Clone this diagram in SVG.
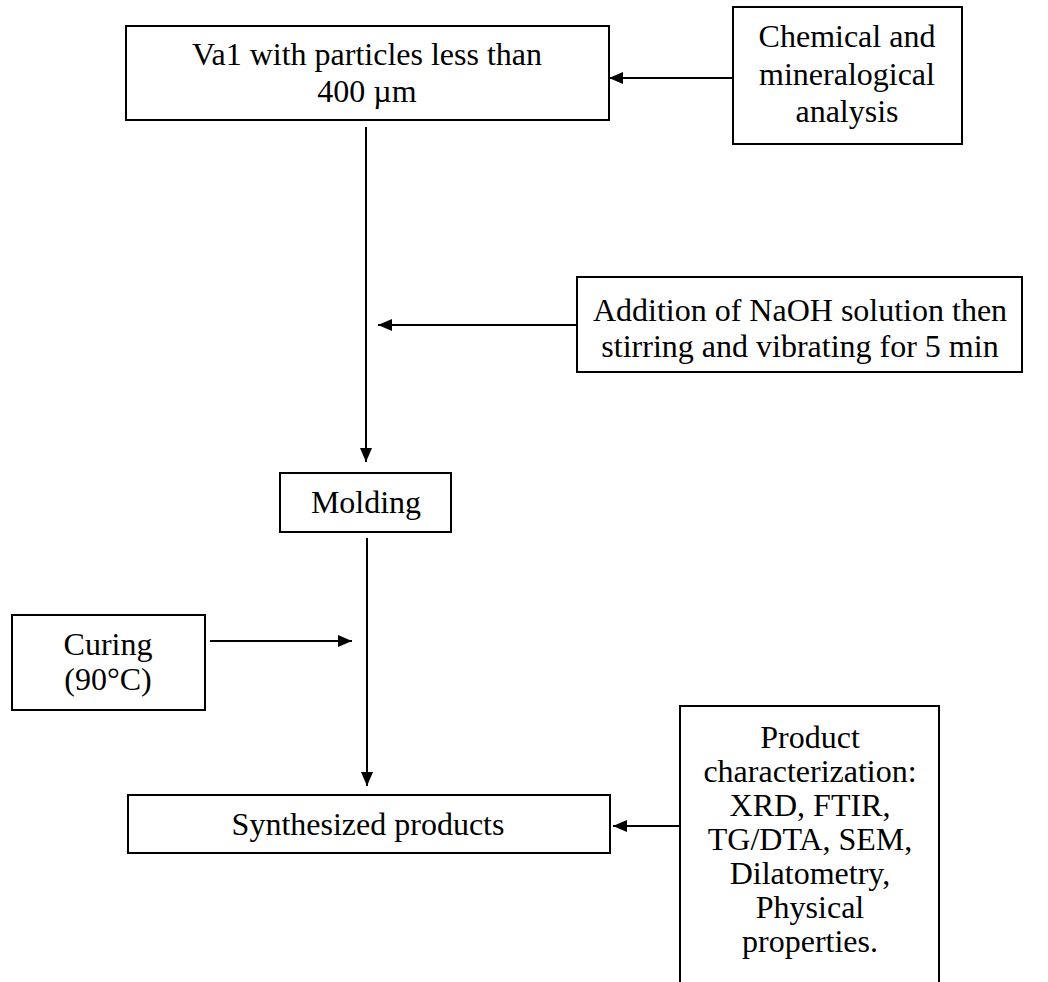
<svg xmlns="http://www.w3.org/2000/svg" width="1048" height="982" viewBox="0 0 1048 982">
<style>
.box{fill:#fff;stroke:#000;stroke-width:2}
.t{font-family:"Liberation Serif","Times New Roman",serif;font-size:32px;fill:#000;text-anchor:middle}
.c{stroke:#000;stroke-width:2;fill:none}
</style>
<defs>
<marker id="ah" viewBox="0 0 14 12" refX="14" refY="6" markerWidth="14" markerHeight="12" markerUnits="userSpaceOnUse" orient="auto">
<path d="M0,0 L14,6 L0,12 Z" fill="#000"/>
</marker>
</defs>
<rect width="1048" height="982" fill="#fff"/>
<g id="connectors">
<line class="c" x1="733" y1="78" x2="609" y2="78" marker-end="url(#ah)"/>
<line class="c" x1="366" y1="127" x2="366" y2="462" marker-end="url(#ah)"/>
<line class="c" x1="577" y1="325" x2="378" y2="325" marker-end="url(#ah)"/>
<line class="c" x1="367" y1="538" x2="367" y2="786" marker-end="url(#ah)"/>
<line class="c" x1="210" y1="641" x2="352" y2="641" marker-end="url(#ah)"/>
<line class="c" x1="680" y1="826" x2="613" y2="826" marker-end="url(#ah)"/>
</g>
<g id="node-va1">
<rect class="box" x="126" y="26" width="483" height="94"/>
<text class="t" x="367" y="65">Va1 with particles less than</text>
<text class="t" x="367" y="102">400 µm</text>
</g>
<g id="node-chemical">
<rect class="box" x="733" y="7" width="229" height="137"/>
<text class="t" x="847" y="47">Chemical and</text>
<text class="t" x="847" y="85">mineralogical</text>
<text class="t" x="847" y="122">analysis</text>
</g>
<g id="node-addition">
<rect class="box" x="577" y="277" width="445" height="95"/>
<text class="t" x="800" y="321">Addition of NaOH solution then</text>
<text class="t" x="800" y="357">stirring and vibrating for 5 min</text>
</g>
<g id="node-molding">
<rect class="box" x="280" y="473" width="171" height="59"/>
<text class="t" x="366" y="513">Molding</text>
</g>
<g id="node-curing">
<rect class="box" x="12" y="615" width="193" height="95"/>
<text class="t" x="108" y="655">Curing</text>
<text class="t" x="108" y="690">(90°C)</text>
</g>
<g id="node-synth">
<rect class="box" x="128" y="795" width="482" height="58"/>
<text class="t" x="368" y="835">Synthesized products</text>
</g>
<g id="node-product">
<path class="box" d="M680,990 L680,706 L939,706 L939,990"/>
<text class="t" x="810" y="748">Product</text>
<text class="t" x="810" y="782">characterization:</text>
<text class="t" x="810" y="816">XRD, FTIR,</text>
<text class="t" x="810" y="850">TG/DTA, SEM,</text>
<text class="t" x="810" y="884">Dilatometry,</text>
<text class="t" x="810" y="918">Physical</text>
<text class="t" x="810" y="952">properties.</text>
</g>
</svg>
